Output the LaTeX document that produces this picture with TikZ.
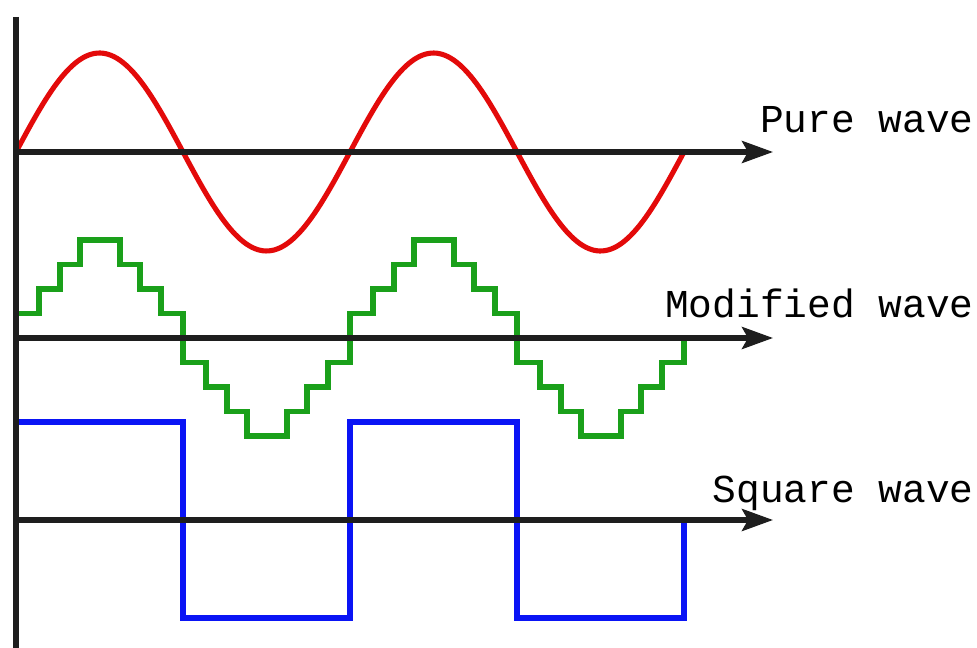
\documentclass[tikz,border=0pt]{standalone}
\usepackage{fontspec}
\setmonofont{Liberation Mono}
\usetikzlibrary{arrows.meta}
\definecolor{axisdark}{HTML}{1E1E1E}
\definecolor{wavered}{HTML}{E30A0A}
\definecolor{wavegreen}{HTML}{1AA01A}
\definecolor{waveblue}{HTML}{0A14F5}

\begin{document}
\begin{tikzpicture}[
  x=0.02cm, y=-0.02cm,
  axisline/.style={
    line width=2.9pt, color=axisdark
  },
  axisarrow/.style={
    axisline, -{Stealth[length=6.2mm, width=4.4mm, inset=1.2mm]}
  },
  wave/.style={
    line width=2.9pt, line join=miter
  },
  purewave/.style={wave, color=wavered, line cap=round},
  modwave/.style={wave, color=wavegreen},
  sqwave/.style={wave, color=waveblue},
  wavelabel/.style={
    anchor=base east, inner sep=0pt,
    font=\ttfamily\fontsize{22.5pt}{26pt}\selectfont, text=black
  }
]
\useasboundingbox (0,0) rectangle (977,648);

% ── Axis end points ───────────────────────────────────────────────────────
\coordinate (ytop) at (16,17);
\coordinate (ybot) at (16,648);
\coordinate (pure0) at (16,152);
\coordinate (pureend) at (773,152);
\coordinate (mod0) at (16,338);
\coordinate (modend) at (773,338);
\coordinate (sq0) at (16,520);
\coordinate (sqend) at (773,520);

% ── Labels ────────────────────────────────────────────────────────────────
\node[wavelabel] (purelabel) at (974,133) {Pure wave};
\node[wavelabel] (modlabel) at (974,318) {Modified wave};
\node[wavelabel] (sqlabel) at (974,502) {Square wave};

% ── Waves ─────────────────────────────────────────────────────────────────
\draw[purewave] plot[smooth, samples=120, domain=0:2]
  ({16+334*\x}, {152-99*sin(360*\x)});

\draw[modwave] (mod0)
  \foreach \h [evaluate=\h as \sgn using {1-2*mod(\h,2)}] in {0,...,3} {
    \foreach \dx/\lv in {23/1,44/2,64/3,104/4,124/3,145/2,167/1} {
      |- ({16+167*\h+\dx}, {338-24.5*\sgn*\lv})
    }
  } -- (684,338);

\draw[sqwave] (sq0) -- (16,422) -- (183,422) -- (183,618) -- (350,618)
  -- (350,422) -- (517,422) -- (517,618) -- (684,618) -- (684,520);

% ── Axes ──────────────────────────────────────────────────────────────────
\draw[axisline] (ytop) -- (ybot);
\draw[axisarrow] (pure0) -- (pureend);
\draw[axisarrow] (mod0) -- (modend);
\draw[axisarrow] (sq0) -- (sqend);

\end{tikzpicture}
\end{document}
